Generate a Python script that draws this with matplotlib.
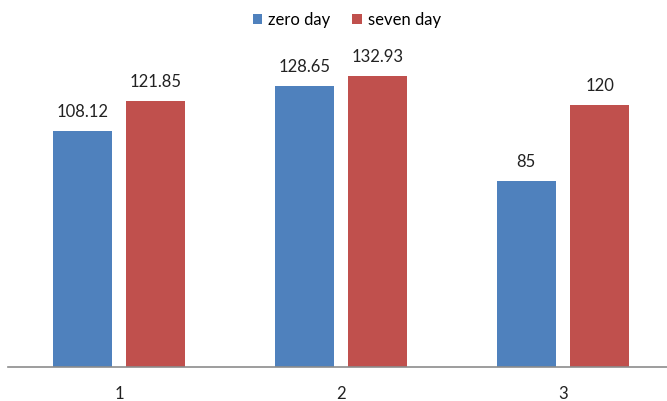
import matplotlib.pyplot as plt
import numpy as np

# ── Data ──────────────────────────────────────────────
categories = ["1", "2", "3"]
zero_day = [108.12, 128.65, 85]
seven_day = [121.85, 132.93, 120]
zero_labels = ["108.12", "128.65", "85"]
seven_labels = ["121.85", "132.93", "120"]

BLUE = "#4F81BD"
RED = "#C0504D"

plt.rcParams["font.family"] = ["Lato", "DejaVu Sans"]

fig = plt.figure(figsize=(6.67, 4.01), dpi=100)
ax = fig.add_axes([8 / 667, 34 / 401, 659 / 667, 306 / 401])

x = np.arange(len(categories))
w = 0.266
off = 0.165

b1 = ax.bar(x - off, zero_day, w, color=BLUE, label="zero day")
b2 = ax.bar(x + off, seven_day, w, color=RED, label="seven day")

for bars, labels in ((b1, zero_labels), (b2, seven_labels)):
    for bar, lab in zip(bars, labels):
        ax.annotate(lab, (bar.get_x() + bar.get_width() / 2, bar.get_height()),
                    xytext=(0, 8), textcoords="offset points",
                    ha="center", va="bottom", fontsize=12, color="#222222")

ax.set_xlim(-0.5, 2.5 - 7 / 222)
ax.set_ylim(0, 140)
ax.set_xticks(x)
ax.set_xticklabels(categories, fontsize=12, color="#222222")
ax.tick_params(axis="x", length=0, pad=14)
ax.set_yticks([])
for s in ("top", "right", "left"):
    ax.spines[s].set_visible(False)
ax.spines["bottom"].set_color("#8c8c8c")
ax.spines["bottom"].set_linewidth(1.2)

fig.legend(loc="center", bbox_to_anchor=(347 / 667, 1 - 20 / 401), ncol=2,
           frameon=False, fontsize=12, handlelength=0.55, handleheight=0.55,
           handletextpad=0.4, columnspacing=1.3)

fig.savefig("out.png", dpi=100)
